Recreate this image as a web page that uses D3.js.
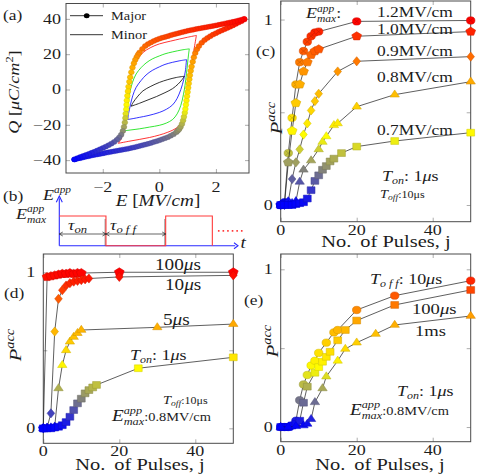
<!DOCTYPE html>
<html><head><meta charset="utf-8">
<script src="https://cdn.jsdelivr.net/npm/d3@7"></script>
<style>
body{margin:0;background:#fff}
svg{display:block}
text{font-family:"Liberation Serif","Times New Roman",serif;fill:#1c1c1c;white-space:pre}
</style></head>
<body><svg id="fig" width="479" height="476"></svg>
<script>
// ================= DATA =================
// (a) major loop (E [MV/cm], Q [uC/cm2])
const majorLow = [[-3.0,-39.6],[-2.9,-39.2],[-2.8,-38.9],[-2.7,-38.5],[-2.6,-38.1],[-2.5,-37.8],[-2.4,-37.4],[-2.3,-37.1],[-2.2,-36.8],[-2.1,-36.5],[-2.0,-36.2],[-1.9,-35.9],[-1.8,-35.6],[-1.7,-35.3],[-1.6,-35.0],[-1.5,-34.7],[-1.4,-34.4],[-1.3,-34.1],[-1.2,-33.8],[-1.1,-33.5],[-1.0,-33.2],[-0.9,-32.8],[-0.8,-32.4],[-0.7,-32.0],[-0.6,-31.6],[-0.5,-31.2],[-0.4,-30.8],[-0.3,-30.3],[-0.2,-29.8],[-0.1,-29.3],[0.0,-28.8],[0.1,-28.2],[0.2,-27.6],[0.3,-27.0],[0.4,-26.2],[0.5,-25.4],[0.6,-24.2],[0.65,-23.4],[0.7,-22.5],[0.75,-21.2],[0.8,-19.5],[0.84,-17.5],[0.87,-15.5],[0.9,-13.2],[0.92,-11.0],[0.94,-8.6],[0.96,-6.2],[0.98,-3.8],[1.0,-1.4],[1.02,1.0],[1.04,3.4],[1.06,5.8],[1.08,8.1],[1.11,10.6],[1.14,13.0],[1.18,15.7],[1.22,18.2],[1.27,20.6],[1.33,22.8],[1.4,24.6],[1.5,26.5],[1.6,28.0],[1.7,29.2],[1.8,30.2],[1.9,31.1],[2.0,31.9],[2.1,32.7],[2.2,33.4],[2.3,34.1],[2.4,34.8],[2.5,35.5],[2.6,36.3],[2.7,37.1],[2.8,37.9],[2.9,38.7],[3.0,39.6]];
const majorUp = [[3.0,40.0],[2.9,39.5],[2.8,39.1],[2.7,38.7],[2.6,38.3],[2.5,38.0],[2.4,37.6],[2.3,37.3],[2.2,37.0],[2.1,36.6],[2.0,36.3],[1.9,36.0],[1.8,35.7],[1.7,35.4],[1.6,35.1],[1.5,34.8],[1.4,34.5],[1.3,34.2],[1.2,33.9],[1.1,33.6],[1.0,33.2],[0.9,32.8],[0.8,32.4],[0.7,32.0],[0.6,31.6],[0.5,31.2],[0.4,30.7],[0.3,30.2],[0.2,29.7],[0.1,29.3],[0.0,28.8],[-0.1,28.1],[-0.2,27.4],[-0.3,26.6],[-0.4,25.7],[-0.5,24.6],[-0.6,23.0],[-0.7,21.0],[-0.75,19.8],[-0.8,18.4],[-0.85,16.8],[-0.9,14.8],[-0.95,12.4],[-0.99,9.8],[-1.03,7.0],[-1.06,4.4],[-1.09,1.6],[-1.11,-1.0],[-1.13,-3.6],[-1.15,-6.2],[-1.16,-8.7],[-1.17,-11.2],[-1.19,-13.7],[-1.2,-16.2],[-1.22,-18.7],[-1.25,-21.2],[-1.29,-23.5],[-1.35,-25.6],[-1.42,-27.2],[-1.5,-28.5],[-1.6,-29.7],[-1.7,-30.7],[-1.8,-31.6],[-1.9,-32.4],[-2.0,-33.2],[-2.1,-33.9],[-2.2,-34.6],[-2.3,-35.3],[-2.4,-35.9],[-2.5,-36.5],[-2.6,-37.1],[-2.7,-37.7],[-2.8,-38.3],[-2.9,-38.9],[-3.0,-39.6]];
// (a) minor loops: upper arc (right tip -> left tip), lower arc (left tip -> right tip)
const minorBlackUp  = [[0.88,7.5],[0.6,6.8],[0.3,5.6],[0.0,4.0],[-0.3,1.8],[-0.58,-0.8],[-0.78,-4.2],[-0.92,-7.2],[-1.0,-9.5]];
const minorBlackLow = [[-1.0,-9.5],[-0.7,-7.8],[-0.4,-5.9],[-0.1,-4.0],[0.2,-1.8],[0.47,0.5],[0.66,3.0],[0.8,5.5],[0.88,7.5]];
const minorBlueUp   = [[0.96,16.9],[0.7,16.2],[0.47,15.4],[0.2,14.2],[0.0,12.8],[-0.25,10.8],[-0.47,8.2],[-0.65,5.0],[-0.82,1.2],[-0.94,-3.5],[-1.02,-8.5],[-1.08,-13.0],[-1.12,-17.0]];
const minorBlueLow  = [[-1.12,-17.0],[-0.9,-16.4],[-0.71,-15.8],[-0.4,-14.8],[0.0,-13.0],[0.25,-11.2],[0.47,-8.7],[0.63,-5.0],[0.76,0.0],[0.86,5.5],[0.92,10.5],[0.96,16.9]];
const minorGreenUp  = [[1.06,23.0],[0.8,22.4],[0.47,21.3],[0.2,20.2],[0.0,19.0],[-0.25,17.3],[-0.47,15.0],[-0.65,12.3],[-0.82,8.8],[-0.95,4.0],[-1.04,-1.5],[-1.1,-8.0],[-1.15,-14.0],[-1.19,-19.0],[-1.24,-23.4]];
const minorGreenLow = [[-1.24,-23.4],[-1.0,-22.9],[-0.71,-22.3],[-0.35,-21.3],[0.0,-20.3],[0.25,-19.0],[0.47,-17.0],[0.63,-13.8],[0.76,-9.0],[0.85,-3.0],[0.91,2.5],[0.96,9.0],[1.0,15.0],[1.03,19.5],[1.06,23.0]];
const minorRedUp    = [[1.31,30.6],[1.0,29.6],[0.72,28.6],[0.4,27.4],[0.0,25.8],[-0.3,23.8],[-0.59,20.8],[-0.8,16.5],[-0.95,11.0],[-1.05,4.5],[-1.12,-3.0],[-1.17,-11.0],[-1.21,-18.0],[-1.27,-24.0],[-1.35,-28.0],[-1.45,-30.5]];
const minorRedLow   = [[-1.45,-30.5],[-1.1,-29.4],[-0.71,-28.3],[-0.35,-27.2],[0.0,-25.8],[0.3,-24.2],[0.59,-22.0],[0.78,-19.0],[0.89,-15.0],[0.96,-8.5],[1.01,-1.5],[1.06,5.0],[1.12,12.0],[1.18,18.0],[1.24,24.0],[1.31,30.6]];
const aTicksX = [-2,0,2];
const aTicksY = [-40,-20,0,20,40];

// (b) pulse schematic (time units of T_on)
const pulseStarts = [0, 2.28];
const pulseOn = 1;

// (c) P_acc vs pulse number j, T_on 1us, T_off 10us
const c12 = [[0,0],[1,0.015],[2,0.28],[3,0.47],[4,0.65],[5,0.77],[6,0.83],[7,0.88],[8,0.91],[9,0.93],[10,0.935],[20,0.99],[50,0.995]];
const c10 = [[0,0],[1,0.005],[2,0.23],[3,0.40],[4,0.55],[5,0.65],[6,0.72],[7,0.77],[8,0.81],[9,0.83],[10,0.84],[20,0.91],[50,0.935]];
const c09 = [[0,0],[1,0],[2,0.02],[3,0.14],[4,0.23],[5,0.30],[6,0.38],[7,0.44],[8,0.51],[9,0.56],[10,0.60],[15,0.72],[20,0.775],[50,0.80]];
const c08 = [[0,0],[1,0],[2,0],[3,0.01],[4,0.02],[5,0.125],[6,0.19],[8,0.24],[10,0.30],[11,0.34],[12,0.37],[14,0.43],[15,0.44],[20,0.53],[30,0.595],[50,0.665]];
const c07 = [[0,0],[1,0],[2,0],[3,0],[4,0.005],[5,0.01],[6,0.015],[7,0.035],[8,0.08],[9,0.13],[10,0.16],[11,0.19],[12,0.21],[13,0.235],[14,0.25],[16,0.28],[20,0.315],[30,0.345],[50,0.39]];
const cLabels = ["1.2MV/cm","1.0MV/cm","0.9MV/cm","0.8MV/cm","0.7MV/cm"];

// (d) P_acc vs j for different T_on (T_off 10us, 0.8MV/cm)
const d100 = [[0,0],[1,0.97],[2,0.975],[3,0.98],[4,0.985],[5,0.99],[6,0.99],[7,0.995],[8,0.99],[9,0.995],[10,0.995],[20,1.0],[50,1.0]];
const d10  = [[0,0],[1,0.005],[2,0.096],[3,0.62],[4,0.83],[5,0.885],[6,0.915],[7,0.93],[8,0.94],[9,0.945],[10,0.95],[11,0.955],[12,0.96],[20,0.97],[50,0.98]];
const d5   = [[0,0],[1,0],[2,0.005],[3,0.01],[4,0.256],[5,0.405],[6,0.50],[7,0.555],[8,0.585],[9,0.61],[10,0.63],[30,0.647],[50,0.668]];
const d1   = [[0,0],[1,0],[2,0],[3,0.005],[4,0.01],[5,0.02],[6,0.04],[7,0.074],[8,0.117],[9,0.16],[10,0.19],[11,0.224],[12,0.245],[13,0.262],[14,0.278],[25,0.385],[50,0.455]];
const dLabels = ["100","10","5"];

// (e) P_acc vs j for different T_off (T_on 1us, 0.8MV/cm)
const e10us  = [[0,0],[1,0],[2,0],[3,0.01],[4,0.04],[5,0.17],[6,0.27],[7,0.33],[8,0.39],[9,0.42],[10,0.47],[12,0.535],[14,0.60],[15,0.615],[20,0.742],[30,0.833],[50,0.928]];
const e100us = [[0,0],[1,0],[2,0],[3,0.01],[4,0.02],[5,0.04],[6,0.154],[7,0.256],[9,0.344],[10,0.38],[11,0.414],[12,0.445],[13,0.477],[15,0.55],[17,0.615],[20,0.675],[30,0.774],[50,0.869]];
const e1ms   = [[0,0],[2,0],[4,0.005],[6,0.01],[7,0.02],[8,0.05],[9,0.157],[11,0.245],[12,0.32],[15,0.42],[17,0.495],[20,0.535],[25,0.59],[30,0.647],[50,0.704]];
const jTicks = [0,20,40];
const pTicks = [0,0.5,1];
const pTickLabels = {0:"0",1:"1"};

// ================= HELPERS =================
const SX = 1.2, SM = 1.15;
const svg = d3.select('#fig');
const cmap = d3.scaleLinear().domain([0,0.37,0.7,1])
  .range(['#0000ff','#ffff00','#ffa000','#ff0000']).clamp(true);

function rich(g, x, y, parts, o = {}) {
  const anchor = o.anchor || 'start', rot = o.rot || 0, sx = o.sx || SX;
  const grp = g.append('g').attr('transform', `translate(${x},${y}) rotate(${rot}) scale(${sx},1)`);
  const inner = grp.append('g');
  let cx = 0;
  for (const p of parts) {
    if (p.sup !== undefined) {
      const a = inner.append('text').attr('x', cx).attr('y', p.up).attr('font-size', p.s)
        .attr('font-style', 'italic').text(p.sup);
      const b = inner.append('text').attr('x', cx).attr('y', p.dn).attr('font-size', p.s)
        .attr('font-style', 'italic').text(p.sub || '');
      cx += Math.max(a.node().getComputedTextLength(), b.node().getComputedTextLength());
    } else {
      const t = inner.append('text').attr('x', cx).attr('y', p.dy || 0).attr('font-size', p.s)
        .attr('font-style', p.i ? 'italic' : 'normal').text(p.t);
      cx += t.node().getComputedTextLength() + (p.gap || 0);
    }
  }
  if (anchor === 'middle') inner.attr('transform', `translate(${-cx / 2},0)`);
  if (anchor === 'end') inner.attr('transform', `translate(${-cx},0)`);
  return grp;
}

function shape(kind) {
  const poly = (n, R, a0) => 'M' + d3.range(n).map(k => {
    const a = (a0 + k * 360 / n) * Math.PI / 180;
    return [R * Math.cos(a), R * Math.sin(a)].join(',');
  }).join('L') + 'Z';
  switch (kind) {
    case 'circle': return d3.symbol(d3.symbolCircle, Math.PI * 3.7 * 3.7)();
    case 'otimes': return d3.symbol(d3.symbolCircle, Math.PI * 3.7 * 3.7)();
    case 'square': return 'M-3.4,-3.4H3.4V3.4H-3.4Z';
    case 'diamond': return 'M0,-4.6L3.3,0L0,4.6L-3.3,0Z';
    case 'triangle': return poly(3, 4.7, -90);
    case 'pentagon': return poly(5, 4.5, -90);
    case 'dot': return d3.symbol(d3.symbolCircle, Math.PI * 2.5 * 2.5)();
  }
}

function frame(g, x, y, xt, yt) {
  const [x0, x1] = x.range(), [y0, y1] = y.range();
  const tk = (sel) => sel.call(s => s.select('.domain').remove())
    .call(s => s.selectAll('line').attr('stroke', '#8a8a8a').attr('stroke-width', 0.7));
  g.append('g').attr('transform', `translate(0,${y0})`).call(d3.axisBottom(x).tickValues(xt).tickSize(-4).tickFormat('')).call(tk);
  g.append('g').attr('transform', `translate(0,${y1})`).call(d3.axisTop(x).tickValues(xt).tickSize(-4).tickFormat('')).call(tk);
  g.append('g').attr('transform', `translate(${x0},0)`).call(d3.axisLeft(y).tickValues(yt).tickSize(-4).tickFormat('')).call(tk);
  g.append('g').attr('transform', `translate(${x1},0)`).call(d3.axisRight(y).tickValues(yt).tickSize(-4).tickFormat('')).call(tk);
  g.append('rect').attr('x', x0).attr('y', y1).attr('width', x1 - x0).attr('height', y0 - y1)
    .attr('fill', 'none').attr('stroke', '#4a4a4a').attr('stroke-width', 1);
}

function series(g, x, y, data, kind) {
  g.append('path').datum(data)
    .attr('d', d3.line().x(d => x(d[0])).y(d => y(d[1])))
    .attr('fill', 'none').attr('stroke', '#1a1a1a').attr('stroke-width', 0.7);
  const m = g.selectAll(null).data(data).enter().append('g')
    .attr('transform', d => `translate(${x(d[0])},${y(d[1])}) scale(${SM},1)`);
  m.append('path').attr('d', shape(kind))
    .attr('fill', d => cmap(d[1]))
    .attr('stroke', d => d3.color(cmap(d[1])).darker(0.5))
    .attr('stroke-width', 0.5);
  if (kind === 'otimes') {
    m.append('path').attr('d', 'M-2.5,-2.5L2.5,2.5M-2.5,2.5L2.5,-2.5')
      .attr('stroke', d => d3.color(cmap(d[1])).darker(1.2)).attr('stroke-width', 0.6).attr('opacity', 0.6);
  }
}

const fs = 15;
function Emax(g, x, y, s, tail, ts) {
  const parts = [{t: 'E', i: 1, s: s}, {sup: 'app', sub: 'max', s: s * 0.64, up: -s * 0.42, dn: s * 0.28}];
  if (tail) parts.push({t: tail, s: ts || s});
  return rich(g, x, y, parts);
}
function pLabel(g, x, y) {
  rich(g, x, y, [{t: 'P', i: 1, s: 17}, {t: 'acc', i: 1, s: 12, dy: -7}], {anchor: 'middle', rot: -90});
}
function jLabel(g, x, y) {
  rich(g, x, y, [{t: 'No.', s: 16.5, gap: 3}, {t: ' of Pulses, j', s: 16.5}], {anchor: 'middle', sx: 1.24});
}
function pTickText(g, x, y) {
  pTicks.filter(v => pTickLabels[v] !== undefined).forEach(v =>
    rich(g, x.range()[0] - 8, y(v) + 5, [{t: pTickLabels[v], s: fs}], {anchor: 'end'}));
  jTicks.forEach(v => rich(g, x(v), y.range()[0] + 12.8, [{t: String(v), s: fs}], {anchor: 'middle'}));
}
const fmtMinus = v => (v < 0 ? '\u2212' + Math.abs(v) : String(v));
const mus = (pre, s) => [{t: pre, s: s}, {t: 'μ', i: 1, s: s}, {t: 's', s: s}];

// ================= PANEL (a) =================
{
  const g = svg.append('g');
  const x = d3.scaleLinear().domain([-3.3, 3.17]).range([66, 249]);
  const y = d3.scaleLinear().domain([-47.3, 48.7]).range([173, 3.5]);
  frame(g, x, y, aTicksX, aTicksY);
  const ln = d3.line().x(d => x(d[0])).y(d => y(d[1])).curve(d3.curveCatmullRom);
  const loops = [
    {up: minorRedUp, low: minorRedLow, c: '#ff0000'},
    {up: minorGreenUp, low: minorGreenLow, c: '#00e000'},
    {up: minorBlueUp, low: minorBlueLow, c: '#0000ff'},
    {up: minorBlackUp, low: minorBlackLow, c: '#000000'}];
  loops.forEach(L => [L.up, L.low].forEach(arc =>
    g.append('path').attr('d', ln(arc)).attr('fill', 'none').attr('stroke', L.c).attr('stroke-width', 0.8)));
  [majorLow, majorUp].forEach(br => {
    g.append('path').attr('d', ln(br)).attr('fill', 'none').attr('stroke', '#000').attr('stroke-width', 0.6);
  });
  [majorLow, majorUp].forEach(br => {
    g.selectAll(null).data(br).enter().append('path')
      .attr('transform', d => `translate(${x(d[0])},${y(d[1])}) scale(${SM},1)`)
      .attr('d', shape('dot'))
      .attr('fill', d => cmap((d[1] + 40) / 80))
      .attr('stroke', d => d3.color(cmap((d[1] + 40) / 80)).darker(0.4)).attr('stroke-width', 0.4);
  });
  // legend
  g.append('line').attr('x1', 70).attr('x2', 103).attr('y1', 15.7).attr('y2', 15.7).attr('stroke', '#000').attr('stroke-width', 0.8);
  g.append('path').attr('transform', `translate(86.7,15.7) scale(${SM},1)`).attr('d', shape('dot')).attr('fill', '#000');
  g.append('line').attr('x1', 70).attr('x2', 103).attr('y1', 34.7).attr('y2', 34.7).attr('stroke', '#000').attr('stroke-width', 0.8);
  rich(g, 111, 20, [{t: 'Major', s: 12.5}], {sx: 1.15});
  rich(g, 111, 39, [{t: 'Minor', s: 12.5}], {sx: 1.15});
  rich(g, 3, 20, [{t: '(a)', s: 14.5}]);
  aTicksY.forEach(v => rich(g, 61, y(v) + 5, [{t: fmtMinus(v), s: fs}], {anchor: 'end'}));
  aTicksX.forEach(v => rich(g, x(v), 191.5, [{t: fmtMinus(v), s: fs}], {anchor: 'middle'}));
  rich(g, 158, 205.5, [{t: 'E', i: 1, s: 16}, {t: ' [', s: 16}, {t: 'MV', i: 1, s: 16}, {t: '/', s: 16}, {t: 'cm', i: 1, s: 16}, {t: ']', s: 16}], {anchor: 'middle'});
  rich(g, 19, 92, [{t: 'Q', i: 1, s: 14.5}, {t: ' [', s: 14.5}, {t: 'μC', i: 1, s: 14.5}, {t: '/', s: 14.5}, {t: 'cm', i: 1, s: 14.5}, {t: '2', s: 10, dy: -6}, {t: ']', s: 14.5}], {anchor: 'middle', rot: -90, sx: 1.25});
}

// ================= PANEL (b) =================
{
  const g = svg.append('g');
  const t = d3.scaleLinear().domain([0, 3.83]).range([59.3, 238]);
  const e = d3.scaleLinear().domain([0, 1]).range([245.7, 216]);
  const blue = '#2a2aff', red = '#ff3b3b';
  g.append('line').attr('x1', t(0)).attr('x2', t(0)).attr('y1', e(0)).attr('y2', e(1.6)).attr('stroke', blue).attr('stroke-width', 1.1);
  g.append('line').attr('x1', t(0)).attr('x2', t(3.77)).attr('y1', e(0)).attr('y2', e(0)).attr('stroke', blue).attr('stroke-width', 1.1);
  g.append('path').attr('d', `M${t(0) - 3},${e(1.6) + 4}L${t(0)},${e(1.67)}L${t(0) + 3},${e(1.6) + 4}`).attr('fill', 'none').attr('stroke', blue).attr('stroke-width', 1.1);
  g.append('path').attr('d', `M${t(3.83) - 4},${e(0) - 3}L${t(3.83)},${e(0)}L${t(3.83) - 4},${e(0) + 3}`).attr('fill', 'none').attr('stroke', blue).attr('stroke-width', 1.1);
  [pulseStarts[0] + pulseOn, pulseStarts[1]].forEach(v =>
    g.append('line').attr('x1', t(v) - 0.8).attr('x2', t(v) - 0.8).attr('y1', e(0.9)).attr('y2', e(0)).attr('stroke', '#333').attr('stroke-width', 0.6));
  let d = `M${t(pulseStarts[0])},${e(1)}`;
  pulseStarts.forEach((s, k) => {
    if (k > 0) d += `H${t(s)}V${e(1)}`;
    d += `H${t(s + pulseOn)}V${e(0)}`;
  });
  g.append('path').attr('d', d).attr('fill', 'none').attr('stroke', red).attr('stroke-width', 1.1);
  g.append('line').attr('x1', t(3.4)).attr('x2', t(3.98)).attr('y1', e(0.5)).attr('y2', e(0.5))
    .attr('stroke', red).attr('stroke-width', 1.6).attr('stroke-dasharray', '1.6,3');
  const arr = (a, b) => {
    const yy = 234;
    g.append('line').attr('x1', t(a)).attr('x2', t(b)).attr('y1', yy).attr('y2', yy).attr('stroke', '#222').attr('stroke-width', 0.7);
    g.append('path').attr('d', `M${t(a) + 3.5},${yy - 2}L${t(a)},${yy}L${t(a) + 3.5},${yy + 2}M${t(b) - 3.5},${yy - 2}L${t(b)},${yy}L${t(b) - 3.5},${yy + 2}`)
      .attr('fill', 'none').attr('stroke', '#222').attr('stroke-width', 0.7);
  };
  arr(0, pulseOn); arr(pulseOn, pulseStarts[1]);
  rich(g, 68, 230, [{t: 'τ', i: 1, s: 15}, {t: 'on', i: 1, s: 10.5, dy: 3}]);
  rich(g, 110, 230, [{t: 'τ', i: 1, s: 15}, {t: 'o f f', i: 1, s: 10.5, dy: 3}]);
  rich(g, 3, 201, [{t: '(b)', s: 14.5}]);
  rich(g, 43, 200, [{t: 'E', i: 1, s: 15}, {t: 'app', i: 1, s: 9.5, dy: -7}]);
  Emax(g, 16, 218.5, 15);
  rich(g, 240.5, 248, [{t: 't', i: 1, s: 16}]);
}

// ================= PANEL (c) =================
{
  const g = svg.append('g');
  const x = d3.scaleLinear().domain([0, 50]).range([280.7, 470.7]);
  const y = d3.scaleLinear().domain([-0.09, 1.1]).range([221.7, 1]);
  frame(g, x, y, jTicks, pTicks);
  series(g, x, y, c12, 'otimes');
  series(g, x, y, c10, 'pentagon');
  series(g, x, y, c09, 'diamond');
  series(g, x, y, c08, 'triangle');
  series(g, x, y, c07, 'square');
  pTickText(g, x, y);
  jLabel(g, 386, 247);
  pLabel(g, 282, 118);
  rich(g, 256, 56, [{t: '(c)', s: 14.5}]);
  Emax(g, 306, 18, 15, ':', 15);
  const cy = [17, 34, 56, 82, 135];
  cLabels.forEach((s, k) => rich(g, 377, cy[k], [{t: s, s: 14.5}]));
  rich(g, 382, 181, [{t: 'T', i: 1, s: 15}, {t: 'on', i: 1, s: 10, dy: 3}].concat(mus(': 1', 15)));
  rich(g, 380, 198, [{t: 'T', i: 1, s: 12}, {t: 'off', i: 1, s: 8, dy: 2}, {t: ':10μs', s: 10}]);
}

// ================= PANEL (d) =================
{
  const g = svg.append('g');
  const x = d3.scaleLinear().domain([0, 50]).range([43.3, 233.3]);
  const y = d3.scaleLinear().domain([-0.096, 1.117]).range([443.3, 254]);
  frame(g, x, y, jTicks, pTicks);
  series(g, x, y, d100, 'pentagon');
  series(g, x, y, d10, 'diamond');
  series(g, x, y, d5, 'triangle');
  series(g, x, y, d1, 'square');
  pTickText(g, x, y);
  jLabel(g, 140, 469.5);
  pLabel(g, 21, 345);
  rich(g, 4, 298, [{t: '(d)', s: 14.5}]);
  const dx = [155, 165, 163], dy = [270, 290, 325];
  dLabels.forEach((s, k) => rich(g, dx[k], dy[k], mus(s, 16)));
  rich(g, 130, 360, [{t: 'T', i: 1, s: 15}, {t: 'on', i: 1, s: 10, dy: 3}].concat(mus(': 1', 15)));
  rich(g, 163, 404, [{t: 'T', i: 1, s: 12}, {t: 'off', i: 1, s: 8, dy: 2}, {t: ':10μs', s: 10}]);
  Emax(g, 112, 421, 16, ':0.8MV/cm', 12);
}

// ================= PANEL (e) =================
{
  const g = svg.append('g');
  const x = d3.scaleLinear().domain([0, 50]).range([280.7, 470.7]);
  const y = d3.scaleLinear().domain([-0.093, 1.097]).range([441.7, 254]);
  frame(g, x, y, jTicks, pTicks);
  series(g, x, y, e10us, 'circle');
  series(g, x, y, e100us, 'square');
  series(g, x, y, e1ms, 'triangle');
  pTickText(g, x, y);
  jLabel(g, 380, 469.5);
  pLabel(g, 278, 341);
  rich(g, 244, 305, [{t: '(e)', s: 14.5}]);
  rich(g, 370, 284, [{t: 'T', i: 1, s: 15}, {t: 'o f f', i: 1, s: 10, dy: 3}].concat(mus(': 10', 15)));
  rich(g, 412, 314, mus('100', 15.5));
  rich(g, 415, 336, [{t: '1ms', s: 15.5}]);
  rich(g, 397, 396, [{t: 'T', i: 1, s: 15}, {t: 'on', i: 1, s: 10, dy: 3}].concat(mus(': 1', 15)));
  Emax(g, 350, 415, 16, ':0.8MV/cm', 12);
}
</script>
</body></html>
